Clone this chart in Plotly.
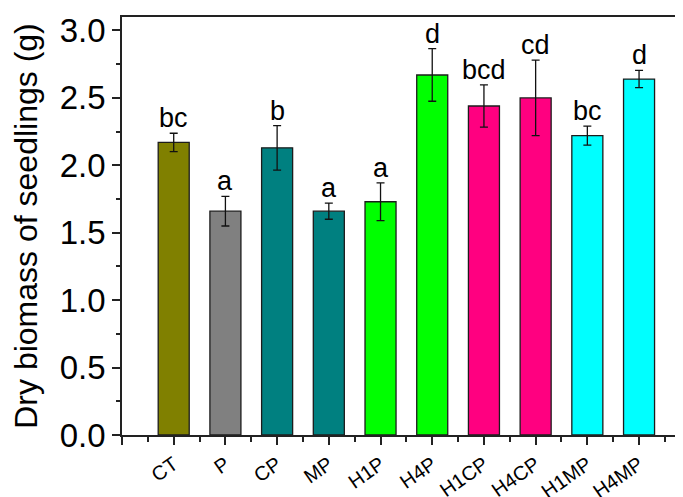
import plotly.graph_objects as go

categories = ["CT", "P", "CP", "MP", "H1P", "H4P", "H1CP", "H4CP", "H1MP", "H4MP"]
values = [2.17, 1.66, 2.13, 1.66, 1.73, 2.67, 2.44, 2.50, 2.22, 2.64]
errors = [0.068, 0.11, 0.165, 0.06, 0.14, 0.195, 0.157, 0.28, 0.07, 0.064]
letters = ["bc", "a", "b", "a", "a", "d", "bcd", "cd", "bc", "d"]
colors = ["#808000", "#808080", "#008080", "#008080", "#00FF00",
          "#00FF00", "#FF0080", "#FF0080", "#00FFFF", "#00FFFF"]
y_ticks = [0.0, 0.5, 1.0, 1.5, 2.0, 2.5, 3.0]

pos = list(range(len(categories)))
FONT = "Liberation Sans, Arial, sans-serif"

fig = go.Figure()
fig.add_trace(go.Bar(
    x=pos, y=values, width=0.6,
    marker=dict(color=colors, line=dict(color="#1c1c1c", width=1.3)),
    error_y=dict(type="data", array=errors, visible=True,
                 color="#111111", thickness=1.3, width=4),
    showlegend=False,
))

for xi, v, e, t in zip(pos, values, errors, letters):
    fig.add_annotation(x=xi, y=v + e, text=t, showarrow=False,
                       yanchor="bottom", yshift=-2,
                       font=dict(family=FONT, size=27, color="#000000"))

fig.update_layout(
    width=675, height=489,
    margin=dict(l=114, r=0, t=9, b=62),
    plot_bgcolor="white", paper_bgcolor="white",
    font=dict(family=FONT, color="#000000"),
    bargap=0.4,
    xaxis=dict(
        range=[-1, 9.85],
        automargin=False,
        tickmode="array",
        tickvals=[-1] + pos,
        ticktext=[""] + categories,
        tickangle=-35,
        tickfont=dict(family=FONT, size=20),
        ticks="outside", ticklen=8, tickwidth=1.5, tickcolor="#222222",
        minor=dict(tickmode="linear", tick0=-1, dtick=0.5, ticks="outside",
                   ticklen=5, tickwidth=1.5, tickcolor="#222222"),
        showline=True, linecolor="#222222", linewidth=1.8,
        mirror=True,
        showgrid=False, zeroline=False,
    ),
    yaxis=dict(
        range=[0, 3.1],
        automargin=False,
        tickmode="array", tickvals=y_ticks,
        ticktext=[f"{v:.1f}" for v in y_ticks],
        tickfont=dict(family=FONT, size=33),
        ticks="outside", ticklen=8, tickwidth=1.5, tickcolor="#222222",
        minor=dict(tickmode="linear", tick0=0, dtick=0.25, ticks="outside",
                   ticklen=4, tickwidth=1.5, tickcolor="#222222"),
        showline=True, linecolor="#222222", linewidth=1.8,
        showgrid=False, zeroline=False,
        title=dict(text="Dry biomass of seedlings (g)",
                   font=dict(family=FONT, size=32), standoff=12),
    ),
)

fig.write_html("out.html")
